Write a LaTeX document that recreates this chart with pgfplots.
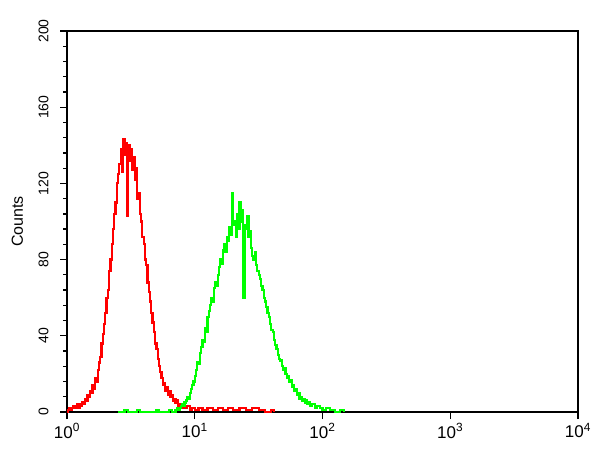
\documentclass[border=0pt]{standalone}
\usepackage{pgfplots}
\usepackage{pgfplotstable}
\pgfplotsset{compat=1.18}
\usepackage{fontspec}
\setmainfont{Liberation Sans}

% exponent e (x = 10^e) and counts per channel
\pgfplotstableread{
e c
0.00 0
0.01 1
0.02 2
0.03 1
0.04 2
0.05 3
0.06 2
0.07 3
0.08 4
0.09 2
0.10 4
0.11 3
0.12 5
0.13 4
0.14 7
0.15 6
0.16 9
0.17 8
0.18 11
0.19 10
0.20 14
0.21 12
0.22 18
0.23 16
0.24 22
0.25 26
0.26 29
0.27 36
0.28 41
0.29 46
0.30 52
0.31 60
0.32 64
0.33 74
0.34 80
0.35 88
0.36 96
0.37 104
0.38 110
0.39 120
0.40 125
0.41 130
0.42 138
0.43 126
0.44 143
0.45 135
0.46 141
0.47 103
0.48 140
0.49 132
0.50 138
0.51 127
0.52 134
0.53 122
0.54 128
0.55 112
0.56 115
0.57 104
0.58 100
0.59 92
0.60 88
0.61 80
0.62 77
0.63 68
0.64 63
0.65 58
0.66 52
0.67 47
0.68 42
0.69 36
0.70 33
0.71 28
0.72 24
0.73 21
0.74 18
0.75 14
0.76 15
0.77 11
0.78 13
0.79 9
0.80 11
0.81 8
0.82 9
0.83 6
0.84 7
0.85 5
0.86 6
0.87 3
0.88 4
0.89 2
0.90 3
0.92 2
0.94 3
0.96 1
0.98 2
1.00 1
1.03 2
1.06 1
1.10 2
1.14 1
1.18 2
1.22 1
1.26 2
1.30 1
1.35 2
1.40 1
1.45 2
1.50 1
1.55 0
1.60 1
1.62 0
}\redtable

\pgfplotstableread{
e c
0.40 0
0.45 1
0.48 0
0.55 1
0.57 0
0.70 1
0.72 0
0.80 1
0.82 0
0.85 1
0.86 2
0.87 1
0.88 2
0.89 3
0.90 4
0.91 3
0.92 5
0.93 6
0.94 8
0.95 7
0.96 10
0.97 12
0.98 14
0.99 16
1.00 19
1.01 22
1.02 26
1.03 25
1.04 31
1.05 34
1.06 38
1.07 37
1.08 44
1.09 42
1.10 50
1.11 53
1.12 56
1.13 60
1.14 58
1.15 65
1.16 68
1.17 66
1.18 72
1.19 76
1.20 80
1.21 78
1.22 85
1.23 88
1.24 84
1.25 92
1.26 90
1.27 97
1.28 93
1.29 115
1.30 98
1.31 100
1.32 92
1.33 104
1.34 96
1.35 110
1.36 100
1.37 106
1.38 60
1.39 98
1.40 96
1.41 103
1.42 92
1.43 95
1.44 86
1.45 82
1.46 80
1.47 84
1.48 77
1.49 74
1.50 72
1.51 70
1.52 66
1.53 64
1.54 60
1.55 58
1.56 55
1.57 52
1.58 50
1.59 46
1.60 43
1.61 42
1.62 38
1.63 35
1.64 33
1.65 30
1.66 28
1.67 27
1.68 24
1.69 22
1.70 23
1.71 20
1.72 18
1.73 19
1.74 16
1.75 17
1.76 13
1.77 14
1.78 11
1.79 12
1.80 9
1.81 10
1.82 7
1.83 8
1.84 6
1.85 7
1.86 5
1.87 6
1.88 4
1.89 5
1.90 3
1.92 4
1.94 2
1.96 3
1.98 2
2.00 1
2.03 2
2.06 1
2.10 0
2.14 1
2.17 0
}\greentable

\begin{document}
\begin{tikzpicture}
\useasboundingbox (-67pt,-38pt) rectangle (533pt,412pt);
\begin{axis}[
  scale only axis,
  width=511pt, height=381pt,
  xmode=log, log basis x=10,
  xmin=1, xmax=10000,
  ymin=0, ymax=200,
  ytick={0,40,80,120,160,200},
  minor y tick num=4,
  xtick={1,10,100,1000,10000},
  xticklabels={10\textsuperscript{0},10\textsuperscript{1},10\textsuperscript{2},10\textsuperscript{3},10\textsuperscript{4}},
  tick align=outside,
  xtick pos=bottom, ytick pos=left,
  major tick length=7pt, minor tick length=4pt,
  every tick/.style={black, line width=1.3pt},
  axis line style={line width=1.8pt},
  /pgf/number format/assume math mode=true,
  xticklabel style={font=\fontsize{17}{19}\selectfont, yshift=-1pt},
  yticklabel style={font=\fontsize{14}{16}\selectfont, rotate=90, anchor=south, yshift=8pt},
  ylabel={Counts},
  ylabel style={font=\fontsize{16}{18}\selectfont, at={(axis description cs:-0.097,0.5)}, anchor=center},
]
\addplot[const plot, red, line width=2.2pt] table[x expr=10^\thisrow{e}, y=c] {\redtable};
\addplot[const plot, green, line width=2.2pt] table[x expr=10^\thisrow{e}, y=c] {\greentable};
\end{axis}
\end{tikzpicture}
\end{document}
